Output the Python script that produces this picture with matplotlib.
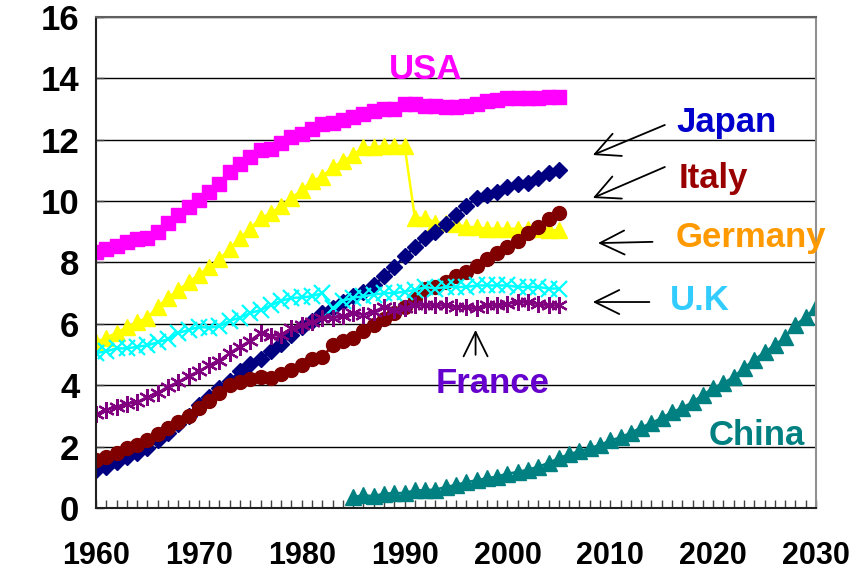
import numpy as np
import matplotlib
matplotlib.use("Agg")
import matplotlib.pyplot as plt
from matplotlib.ticker import MultipleLocator

# yearly values per country
years_hist = np.arange(1960, 2006)
years_china = np.arange(1985, 2031)

usa = [8.35, 8.45, 8.55, 8.65, 8.75, 8.8, 9.0, 9.3, 9.55, 9.8,
       10.05, 10.3, 10.55, 10.95, 11.2, 11.45, 11.65, 11.7, 11.9, 12.1,
       12.2, 12.35, 12.5, 12.55, 12.65, 12.75, 12.85, 12.95, 13.0, 13.0,
       13.15, 13.15, 13.1, 13.1, 13.05, 13.05, 13.1, 13.15, 13.25, 13.3,
       13.35, 13.35, 13.35, 13.35, 13.4, 13.4]
germany = [5.4, 5.55, 5.7, 5.9, 6.05, 6.2, 6.55, 6.85, 7.1, 7.35,
           7.6, 7.85, 8.1, 8.45, 8.8, 9.1, 9.45, 9.6, 9.85, 10.1,
           10.35, 10.65, 10.8, 11.1, 11.3, 11.5, 11.75, 11.75, 11.8, 11.8,
           11.8, 9.45, 9.45, 9.3, 9.3, 9.25, 9.15, 9.15, 9.1, 9.1,
           9.1, 9.1, 9.1, 9.1, 9.05, 9.05]
japan = [1.25, 1.35, 1.5, 1.65, 1.8, 1.95, 2.2, 2.45, 2.75, 3.0,
         3.35, 3.6, 3.9, 4.15, 4.45, 4.7, 4.85, 5.1, 5.35, 5.65,
         5.9, 6.1, 6.35, 6.5, 6.7, 6.9, 7.05, 7.25, 7.55, 7.85,
         8.2, 8.5, 8.8, 9.0, 9.25, 9.55, 9.85, 10.1, 10.2, 10.3,
         10.45, 10.55, 10.6, 10.75, 10.9, 11.0]
italy = [1.55, 1.65, 1.8, 1.95, 2.05, 2.2, 2.4, 2.6, 2.8, 3.0,
         3.25, 3.5, 3.75, 4.0, 4.1, 4.2, 4.27, 4.25, 4.35, 4.5,
         4.65, 4.85, 4.92, 5.3, 5.45, 5.55, 5.75, 5.95, 6.15, 6.35,
         6.55, 6.85, 7.15, 7.2, 7.35, 7.55, 7.7, 7.9, 8.1, 8.3,
         8.5, 8.7, 8.95, 9.15, 9.4, 9.6]
uk = [5.05, 5.1, 5.2, 5.2, 5.25, 5.3, 5.4, 5.5, 5.7, 5.8,
      5.9, 5.87, 5.92, 6.1, 6.2, 6.35, 6.45, 6.6, 6.75, 6.84,
      6.86, 6.9, 7.0, 6.5, 6.75, 6.85, 6.9, 6.95, 7.0, 7.0,
      7.05, 7.1, 7.2, 7.15, 7.2, 7.2, 7.2, 7.25, 7.25, 7.25,
      7.25, 7.2, 7.2, 7.2, 7.15, 7.15]
france = [3.05, 3.2, 3.3, 3.4, 3.45, 3.6, 3.75, 3.95, 4.1, 4.3,
          4.45, 4.65, 4.8, 5.05, 5.25, 5.45, 5.7, 5.6, 5.65, 5.85,
          5.95, 6.05, 6.2, 6.2, 6.25, 6.35, 6.3, 6.4, 6.55, 6.45,
          6.5, 6.6, 6.6, 6.6, 6.6, 6.55, 6.55, 6.5, 6.6, 6.6,
          6.65, 6.7, 6.7, 6.65, 6.6, 6.6]
china = [0.35, 0.42, 0.38, 0.47, 0.48,
         0.49, 0.57, 0.58, 0.6, 0.68, 0.75, 0.84, 0.9, 0.97, 1.02,
         1.12, 1.17, 1.25, 1.34, 1.47, 1.62, 1.75, 1.85, 1.95, 2.05,
         2.2, 2.3, 2.45, 2.62, 2.77, 2.93, 3.12, 3.26, 3.45, 3.68,
         3.9, 4.07, 4.27, 4.56, 4.82, 5.08, 5.3, 5.57, 5.96, 6.22,
         6.55]

x_ticks = [1960, 1970, 1980, 1990, 2000, 2010, 2020, 2030]
y_ticks = [0, 2, 4, 6, 8, 10, 12, 14, 16]

# (name, colour, x, y)
labels = [
    ("USA", "#FF00FF", 1992.0, 14.3),
    ("Japan", "#0000CC", 2021.3, 12.55),
    ("Italy", "#990000", 2020.0, 10.75),
    ("Germany", "#FF9900", 2023.7, 8.8),
    ("U.K", "#33CCFF", 2018.7, 6.75),
    ("France", "#6600CC", 1998.6, 4.05),
    ("China", "#008080", 2024.2, 2.35),
]

# (tail, head)
arrows = [
    ((2015.3, 12.48), (2008.3, 11.5)),
    ((2015.3, 11.11), (2008.3, 10.1)),
    ((2014.1, 8.67), (2008.8, 8.63)),
    ((2013.8, 6.71), (2008.3, 6.71)),
    ((1996.9, 4.99), (1996.9, 5.8)),
]

fig = plt.figure(figsize=(8.65, 5.72), dpi=100)
ax = fig.add_axes([0.111, 0.112, 0.8324, 0.8584])

ax.plot(years_hist, usa, color="#FF00FF", marker="s", ms=10, lw=1.8)
ax.plot(years_hist, germany, color="#FFFF00", marker="^", ms=11, lw=1.8)
ax.plot(years_hist, japan, color="#000080", marker="D", ms=8, lw=1.8)
ax.plot(years_hist, italy, color="#800000", marker="o", ms=10, lw=1.8)
ax.plot(years_hist, uk, color="#00FFFF", marker="x", ms=11, mew=1.6, lw=1.8)
ax.plot(years_hist, france, color="#800080", marker=(6, 2, 0), ms=12, mew=1.6, lw=1.8)
ax.plot(years_china, china, color="#008080", marker="^", ms=11, lw=1.8)

for name, col, x, y in labels:
    ax.text(x, y, name, color=col, ha="center", va="center", fontsize=25,
            fontweight="bold", family="Liberation Sans", clip_on=False)

for tail, head in arrows:
    ax.annotate("", xy=head, xytext=tail,
                arrowprops=dict(arrowstyle="->,head_length=0.65,head_width=0.32",
                                color="black", lw=1.3, mutation_scale=27,
                                shrinkA=0, shrinkB=0))

ax.set_xlim(1960, 2030)
ax.set_ylim(0, 16)
ax.set_xticks(x_ticks)
ax.set_yticks(y_ticks)
ax.xaxis.set_minor_locator(MultipleLocator(1))
ax.yaxis.grid(True, color="black", lw=1)
ax.set_axisbelow(True)

ax.tick_params(axis="x", which="both", direction="in", length=6, width=1,
               color="#404040", pad=24)
ax.tick_params(axis="y", which="major", direction="in", length=6, width=1,
               color="#404040", pad=12)
for t in ax.get_xticklabels():
    t.set_family("Liberation Sans")
    t.set_fontweight("bold")
    t.set_fontsize(22)
for t in ax.get_yticklabels():
    t.set_family("Liberation Sans")
    t.set_fontweight("bold")
    t.set_fontsize(25)

ax.spines["left"].set_color("#202020")
ax.spines["bottom"].set_color("#202020")
ax.spines["top"].set_color("#606060")
ax.spines["right"].set_color("#909090")
for s in ax.spines.values():
    s.set_linewidth(1.5)

fig.savefig("out.png", dpi=100)
